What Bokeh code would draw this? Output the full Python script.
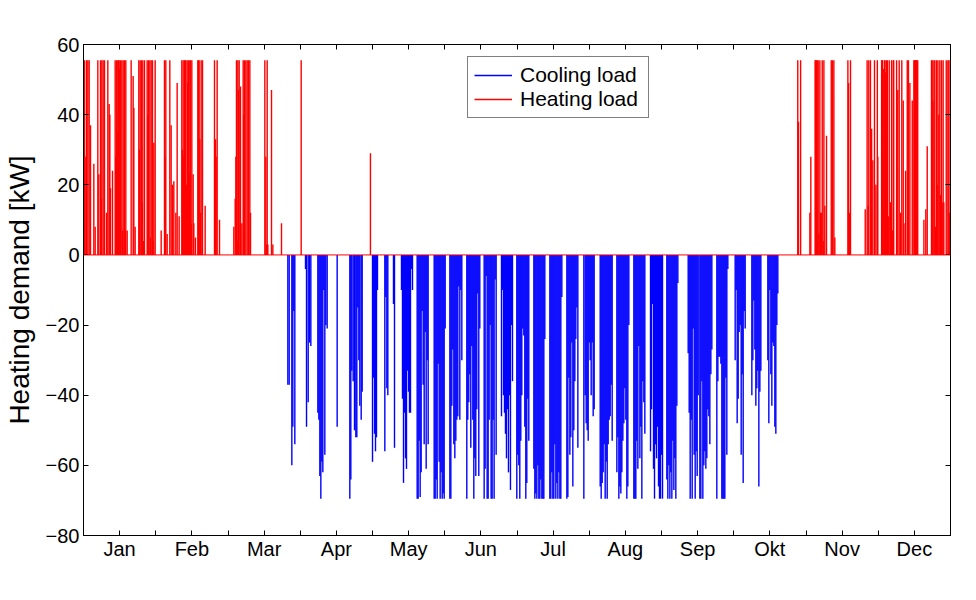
from bokeh.plotting import figure
from bokeh.models import Range1d, FixedTicker, LinearAxis, Span, Legend, LegendItem, ColumnDataSource
from bokeh.embed import file_html
from bokeh.resources import INLINE

# ---------------- data (day of year, kW) ----------------
months = ["Jan", "Feb", "Mar", "Apr", "May", "Jun", "Jul", "Aug", "Sep", "Okt", "Nov", "Dec"]
y_ticks = [-80, -60, -40, -20, 0, 20, 40, 60]

heat_day = [0.42, 0.7, 1.26, 1.83, 2.39, 2.95, 4.35, 4.91,
            6.03, 6.45, 7.16, 7.44, 7.72, 8.28, 8.84, 9.68, 10.24, 10.8, 11.1, 11.37, 12.21,
            13.33, 13.6, 13.89, 14.17, 14.45, 14.72, 15.0, 15.3, 15.58, 16.14, 16.42, 16.7, 17.26, 17.54, 17.82, 18.38,
            20.06, 20.9, 21.2, 21.74,
            23.28, 23.56, 23.85, 24.4, 24.7, 24.97, 25.3, 25.68,
            26.8, 27.1, 27.37, 27.93, 28.2, 28.49, 29.05, 29.33, 29.61, 30.17,
            32.7, 34.1, 34.38, 34.66, 35.22, 36.34, 36.9, 37.47, 38.03, 38.87, 39.43, 40.27,
            41.39, 41.67, 41.95, 42.24, 42.52, 42.8, 43.08, 43.36, 43.64, 43.92, 44.2, 44.48, 44.76, 45.05, 45.33, 45.61, 46.17, 46.45, 47.15,
            48.13, 48.41, 48.69, 48.97, 49.25, 49.53, 50.1, 51.22,
            55.15, 55.57, 55.85, 56.27, 57.26,
            63.29, 63.86, 64.14, 64.41, 64.7, 64.98, 65.26, 65.54, 66.1, 66.66, 67.22, 67.5, 67.78, 68.35, 68.91, 69.47, 70.03, 70.31,
            76.34, 76.76, 77.05, 77.33, 77.61, 79.15, 79.71,
            83.36, 91.64, 120.8,
            300.7, 301.0, 301.9, 305.8, 306.2,
            308.0, 308.3, 308.5, 308.9, 309.3, 309.6, 310.0, 310.3, 310.6, 311.0, 311.4, 311.7, 312.1, 312.8,
            314.8, 315.3, 315.9, 316.3,
            321.8, 322.1, 322.4, 322.9,
            329.1, 329.9, 330.3, 330.6, 331.3, 331.8, 332.3, 333.0, 333.6, 334.2, 334.4,
            336.0, 336.2, 336.4, 336.9, 337.2, 337.4, 337.6, 338.0, 338.4, 338.8, 339.2, 339.7, 340.2, 340.5, 340.9, 341.1,
            342.3, 342.8, 343.4, 344.0, 344.5, 345.1, 345.4, 346.1, 346.8, 347.3, 347.9, 348.9,
            349.6, 349.8, 350.0, 350.2, 350.4, 350.6, 350.8, 351.2,
            353.8, 354.6, 355.2,
            357.0, 357.3, 357.6, 358.0, 358.4, 358.7, 359.1, 359.4, 359.7, 360.1, 360.5, 360.8, 361.2, 361.5, 361.9, 362.2,
            363.2, 363.9, 364.3, 364.6, 364.9]
heat_kw = [55.5, 28, 55.5, 55.5, 55.5, 37, 26, 8,
           55.5, 23, 55.5, 16, 55.5, 55.5, 55.5, 12, 55.5, 43, 40, 19, 24,
           55.5, 28, 55.5, 35, 55.5, 55.5, 55.5, 53, 55.5, 55.5, 7, 55.5, 55.5, 7, 55.5, 7,
           55.5, 51, 42, 8,
           55.5, 30, 55.5, 55.5, 15, 55.5, 4, 55.5,
           55.5, 40, 55.5, 55.5, 5, 55.5, 55.5, 4, 32, 55.5,
           7, 55.5, 28, 55.5, 6, 55.5, 37, 20, 21, 12, 49, 11,
           55.5, 30, 55.5, 28, 55.5, 55.5, 55.5, 20, 55.5, 49, 55.5, 23, 55.5, 55.5, 9, 55.5, 23, 9, 5,
           55.5, 55.5, 55.5, 33, 12, 55.5, 55.5, 14,
           55.5, 33, 28, 55.5, 10,
           8, 16, 28, 55.5, 4, 55.5, 47, 55.5, 48, 9, 55.5, 40, 55.5, 55.5, 55.5, 55.5, 55.5, 12,
           55.5, 28, 3, 55.5, 3, 47, 3,
           9, 55.5, 29,
           55.5, 38, 55.5, 12, 28,
           55.5, 55.5, 55.5, 55.5, 55.5, 6, 55.5, 12, 12, 55.5, 4, 55.5, 14, 34,
           55.5, 55.5, 55.5, 5,
           55.5, 49, 12, 55.5,
           13, 55.5, 14, 55.5, 55.5, 36, 27, 55.5, 20, 55.5, 28,
           55.5, 55.5, 55.5, 53, 55.5, 55.5, 52, 55.5, 55.5, 11, 55.5, 15, 55.5, 7, 55.5, 55.5,
           55.5, 47, 55.5, 12, 55.5, 44, 9, 24, 55.5, 55.5, 49, 44,
           55.5, 55.5, 55.5, 55.5, 55.5, 55.5, 55.5, 55.5,
           10, 13, 31,
           55.5, 55.5, 44, 55.5, 55.5, 8, 55.5, 20, 55.5, 40, 55.5, 17, 55.5, 15, 55.5, 15,
           55.5, 55.5, 55.5, 12, 55.5]

cool_day = [86.03, 86.59, 87.71, 88.13, 88.55, 88.97,
            93.46, 93.89, 94.59, 95.15, 95.71,
            98.66, 99.08, 99.5, 99.92, 100.34, 100.76, 101.18, 101.6, 102.02, 102.58,
            106.79,
            112.12, 112.54, 112.96, 113.53, 114.09, 114.65, 115.07, 115.49, 115.91, 116.33, 116.9, 117.32,
            121.67, 122.09, 122.51, 122.93, 123.35, 123.77,
            126.86, 127.28, 127.7, 128.12,
            130.5, 130.93,
            133.87, 134.29, 134.72, 135.14, 135.56, 135.98, 136.4, 136.82, 137.24, 137.66, 138.08, 138.5,
            140.47, 140.89, 141.31, 141.73, 142.15, 142.57, 143.0, 143.42, 143.84, 144.26, 144.68, 145.1,
            147.63, 148.05, 148.47, 148.89, 149.31, 149.73, 150.15, 150.57, 151.0, 151.42, 151.84, 152.26,
            154.23, 154.65, 155.07, 155.49, 155.91, 156.33, 156.75, 157.17, 157.59, 158.01, 158.43, 158.85, 159.27,
            161.37, 161.79, 162.21, 162.63, 163.05, 163.48, 163.9, 164.32, 164.74, 165.16, 165.58, 166.0, 166.42, 166.84,
            168.67, 169.09, 169.51, 169.93, 170.35, 170.77, 171.19, 171.61, 172.03, 172.45, 172.87, 173.3, 173.72,
            175.97, 176.39, 176.81, 177.23, 177.65, 178.07, 178.49, 178.91, 179.33, 179.75, 180.18, 180.6,
            182.42, 182.84, 183.26, 183.68, 184.1, 184.52, 184.95, 185.37, 185.79, 186.21, 186.63, 187.05, 187.47,
            189.59, 190.01, 190.43, 190.86, 191.28, 191.7, 192.12, 192.54, 192.96, 193.38, 193.8, 194.22,
            196.33, 196.75, 197.17, 197.59, 198.01, 198.43, 198.85, 199.28, 199.7, 200.12, 200.54, 200.96, 201.38,
            203.49, 203.91, 204.33, 204.75, 205.17, 205.59, 206.01, 206.43, 206.85, 207.27, 207.7, 208.12,
            210.64,
            211.2, 211.62, 212.05, 212.47, 212.89, 213.31, 213.73, 214.15, 214.57, 214.99,
            217.52, 217.94, 218.36, 218.78, 219.2, 219.62, 220.04, 220.47, 220.89, 221.31, 221.73, 222.15, 222.57,
            224.54, 224.96, 225.38, 225.8, 226.22, 226.64, 227.06, 227.48, 227.9, 228.32, 228.74, 229.17, 229.59,
            231.69, 232.11, 232.53, 232.95, 233.38, 233.8, 234.22, 234.64, 235.06, 235.48, 235.9, 236.32,
            238.71, 239.13, 239.55, 239.97, 240.39, 240.81, 241.23, 241.66, 242.08, 242.5, 242.92, 243.34, 243.76,
            245.58, 246.0, 246.43, 246.85, 247.27, 247.69, 248.11, 248.53, 248.95, 249.37, 249.79, 250.22,
            254.57, 254.99, 255.41, 255.83, 256.25, 256.67, 257.09, 257.51, 257.93, 258.35, 258.78,
            259.48, 259.9, 260.32, 260.74, 261.16, 261.58, 262.0, 262.42, 262.84, 263.26, 263.69, 264.11, 264.53,
            266.63, 267.06, 267.48, 267.9, 268.32, 268.74, 269.16, 269.58, 270.0, 270.42, 270.84, 271.26,
            274.35, 274.77, 275.19, 275.61, 276.03, 276.45, 276.88, 277.3, 277.72, 278.14, 278.56,
            281.37, 281.79, 282.21, 282.63, 283.05, 283.47, 283.89, 284.32, 284.74, 285.16,
            288.1, 288.52, 288.94, 289.37, 289.79, 290.21, 290.63, 291.05, 291.47, 291.89, 292.31]
cool_kw = [-37, -37, -60, -49, -16, -54,
           -4, -49, -42, -25, -26,
           -45, -47, -63, -69.5, -59, -62, -10, -57, -20, -21,
           -49,
           -69.5, -64, -33, -36, -50, -52, -52, -15, -30, -43, -47, -39,
           -59, -35, -51, -56, -52, -10,
           -56, -12, -38, -40,
           -14, -55,
           -10, -41, -65, -45, -58, -61, -33, -39, -45, -45, -4, -10,
           -69.5, -69.5, -53, -69, -62, -16, -37, -54, -22, -61, -30, -54,
           -69.5, -69.5, -64, -69.5, -31, -59, -69.5, -62, -69.5, -68, -69.5, -21,
           -69.5, -69.5, -43, -27, -54, -58, -53, -47, -46, -9, -47, -10, -30,
           -69.5, -47, -42, -34, -55, -26, -47, -69.5, -58, -63, -44, -11, -63, -21,
           -69.5, -61, -6, -69.5, -69.5, -47, -20, -69.5, -69.5, -47, -69.5, -7, -57,
           -46, -10, -40, -45, -51, -58, -44, -62, -40, -67, -20, -36,
           -69.5, -57, -60, -69.5, -53, -40, -21, -23, -49, -69.5, -65, -41, -53,
           -61, -69.5, -68, -69.5, -60, -69.5, -69.5, -64, -69.5, -69.5, -69.5, -24,
           -69.5, -69.5, -62, -69.5, -69.5, -54, -69.5, -65, -69.5, -62, -69.5, -69.5, -12,
           -69.5, -69, -35, -57, -52, -25, -66, -50, -36, -24, -15, -55,
           -69.5,
           -40, -48, -50, -53, -25, -30, -40, -25, -46, -44,
           -66, -69.5, -65, -62, -54, -69.5, -59, -69.5, -54, -47, -46, -37, -53,
           -62, -52, -69.5, -66, -68, -62, -53, -48, -38, -47, -69.5, -66, -20,
           -69.5, -69.5, -69.5, -53, -61, -26, -58, -49, -69.5, -36, -42, -51,
           -56, -44, -14, -61, -69.5, -54, -58, -49, -66, -69.5, -69.5, -57, -69.5,
           -64, -69.5, -60, -69.5, -62, -69.5, -53, -67, -58, -69.5, -43, -8,
           -28, -45, -69.5, -47, -69.5, -21, -57, -69.5, -56, -63, -40,
           -69.5, -69.5, -36, -69.5, -60, -56, -61, -58, -44, -46, -54, -34, -27,
           -69.5, -36, -29, -29, -31, -69.5, -69.5, -69.5, -69.5, -35, -57, -4,
           -30, -10, -48, -41, -22, -20, -57, -34, -65, -16, -21,
           -40, -30, -13, -27, -43, -38, -33, -66, -39, -33,
           -30, -48, -10, -34, -43, -25, -26, -49, -51, -20, -11]

# ---------------- figure ----------------
HOURS = 8760
x_ticks = list(range(0, HOURS + 1, 365))
overrides = {t: "" for t in x_ticks}
for i, m in enumerate(months):
    overrides[x_ticks[2 * i + 1]] = m

FONT = "Liberation Sans"

p = figure(width=968, height=592, output_backend="svg", toolbar_location=None,
           x_range=Range1d(0, HOURS), y_range=Range1d(-80, 60),
           min_border_left=83, min_border_right=18, min_border_top=44, min_border_bottom=57,
           background_fill_color="white", border_fill_color="white")
p.outline_line_color = "black"
p.outline_line_width = 1
p.grid.visible = False

cool_src = ColumnDataSource(dict(x=[d * 24 for d in cool_day], v=cool_kw))
heat_src = ColumnDataSource(dict(x=[d * 24 for d in heat_day], v=heat_kw))

r_cool = p.segment(x0="x", y0=0, x1="x", y1="v", source=cool_src, line_color="#0000ff", line_width=1.4)
r_heat = p.segment(x0="x", y0=0, x1="x", y1="v", source=heat_src, line_color="#ff0000", line_width=1.4)
p.add_layout(Span(location=0, dimension="width", line_color="#ff0000", line_width=1))

def style_axis(ax, labels=True):
    ax.axis_line_color = "black"
    ax.major_tick_line_color = "black"
    ax.major_tick_in = 5
    ax.major_tick_out = 0
    ax.minor_tick_line_color = None
    ax.major_label_text_font = FONT
    ax.major_label_text_color = "black"
    if labels:
        ax.major_label_text_font_size = "20px"
    else:
        ax.major_label_text_font_size = "0px"
        ax.major_label_standoff = 0

xa = p.xaxis[0]
xa.ticker = FixedTicker(ticks=x_ticks)
xa.major_label_overrides = overrides
xa.major_label_standoff = 2
style_axis(xa)

ya = p.yaxis[0]
ya.ticker = FixedTicker(ticks=y_ticks)
ya.major_label_standoff = 4
ya.axis_label = "Heating demand [kW]"
ya.axis_label_text_font = FONT
ya.axis_label_text_font_size = "28px"
ya.axis_label_text_font_style = "normal"
ya.axis_label_text_color = "black"
ya.axis_label_standoff = 8
style_axis(ya)

top = LinearAxis(ticker=FixedTicker(ticks=x_ticks))
top.major_label_overrides = {t: "" for t in x_ticks}
style_axis(top, labels=False)
p.add_layout(top, "above")
right = LinearAxis(ticker=FixedTicker(ticks=y_ticks))
right.major_label_overrides = {t: "" for t in y_ticks}
style_axis(right, labels=False)
p.add_layout(right, "right")

legend = Legend(items=[LegendItem(label="Cooling load", renderers=[r_cool]),
                       LegendItem(label="Heating load", renderers=[r_heat])],
                location=(384, 417))
legend.label_text_font = FONT
legend.label_text_font_size = "21px"
legend.label_text_color = "black"
legend.glyph_width = 38
legend.glyph_height = 24
legend.label_height = 24
legend.label_width = 122
legend.label_standoff = 8
legend.padding = 6
legend.spacing = 0
legend.margin = 0
legend.border_line_color = "black"
legend.border_line_width = 1
legend.background_fill_color = "white"
legend.background_fill_alpha = 1
p.add_layout(legend, "center")

open("out.html", "w").write(file_html(p, INLINE))
